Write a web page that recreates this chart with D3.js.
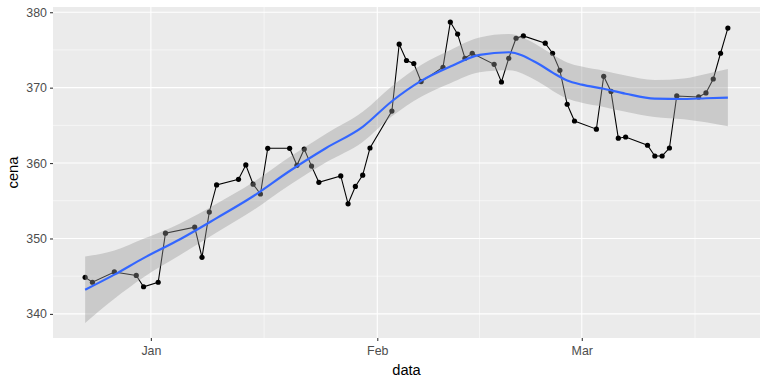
<!DOCTYPE html>
<html>
<head>
<meta charset="utf-8">
<script src="https://cdn.jsdelivr.net/npm/d3@7"></script>
<style>
  html, body { margin: 0; padding: 0; background: #ffffff; }
  svg { display: block; font-family: "Liberation Sans", Arial, sans-serif; }
</style>
</head>
<body>
<svg id="chart" width="768" height="384"></svg>
<script>
// ---- data ----
const dates = [
  "2013-12-23","2013-12-24","2013-12-27","2013-12-30","2013-12-31",
  "2014-01-02","2014-01-03","2014-01-07","2014-01-08","2014-01-09","2014-01-10",
  "2014-01-13","2014-01-14","2014-01-15","2014-01-16","2014-01-17",
  "2014-01-20","2014-01-21","2014-01-22","2014-01-23","2014-01-24",
  "2014-01-27","2014-01-28","2014-01-29","2014-01-30","2014-01-31",
  "2014-02-03","2014-02-04","2014-02-05","2014-02-06","2014-02-07",
  "2014-02-10","2014-02-11","2014-02-12","2014-02-13","2014-02-14",
  "2014-02-17","2014-02-18","2014-02-19","2014-02-20","2014-02-21",
  "2014-02-24","2014-02-25","2014-02-26","2014-02-27","2014-02-28",
  "2014-03-03","2014-03-04","2014-03-05","2014-03-06","2014-03-07",
  "2014-03-10","2014-03-11","2014-03-12","2014-03-13","2014-03-14",
  "2014-03-17","2014-03-18","2014-03-19","2014-03-20","2014-03-21"
];
const cena = [
  344.85, 344.2, 345.56, 345.1, 343.6,
  344.2, 350.7, 351.5, 347.5, 353.5, 357.1,
  357.85, 359.75, 357.2, 355.9, 361.96,
  361.96, 359.7, 361.85, 359.6, 357.45,
  358.3, 354.6, 356.9, 358.4, 362.0,
  366.9, 375.76, 373.6, 373.2, 370.8,
  372.7, 378.7, 377.1, 373.9, 374.56,
  373.1, 370.75, 373.9, 376.55, 376.86,
  375.9, 374.56, 372.3, 367.8, 365.58,
  364.5, 371.5, 369.5, 363.3, 363.46,
  362.36, 360.94, 360.94, 362.0, 368.9,
  368.77, 369.3, 371.15, 374.56, 377.9
];

// smoothed trend (loess) and its confidence band
const smoothDates = [
  "2013-12-23","2013-12-27","2013-12-31","2014-01-05","2014-01-10","2014-01-15",
  "2014-01-20","2014-01-25","2014-01-30","2014-02-03","2014-02-07","2014-02-11",
  "2014-02-15","2014-02-19","2014-02-23","2014-02-25","2014-02-27","2014-03-01",
  "2014-03-04","2014-03-07","2014-03-11","2014-03-15","2014-03-18","2014-03-21"
];
const smoothFit = [
  343.2, 345.2, 347.4, 349.9, 352.7, 355.6,
  358.95, 362.0, 364.8, 368.2, 370.9, 372.8,
  374.35, 374.7, 373.2, 372.0, 370.95, 370.4,
  369.85, 369.2, 368.55, 368.5, 368.6, 368.67
];
const smoothLower = [
  338.8, 342.0, 344.85, 347.8, 350.8, 353.75,
  357.1, 360.1, 362.8, 366.2, 368.8, 370.6,
  372.05, 372.3, 370.8, 369.6, 368.55, 368.0,
  367.45, 366.8, 366.1, 365.8, 365.4, 364.87
];
const smoothUpper = [
  347.6, 348.4, 349.95, 352.0, 354.6, 357.45,
  360.8, 363.9, 366.8, 370.2, 373.0, 375.0,
  376.65, 377.1, 375.6, 374.4, 373.35, 372.8,
  372.25, 371.6, 371.0, 371.2, 371.8, 372.47
];

const xTickDates = ["2014-01-01", "2014-02-01", "2014-03-01"];
const xTickLabels = ["Jan", "Feb", "Mar"];
const yTicks = [340, 350, 360, 370, 380];

// ---- layout ----
const svg = d3.select("#chart");
const panel = { left: 53, right: 760, top: 7, bottom: 338 };
const FONT = "'Liberation Sans', Arial, sans-serif";

const parse = d3.utcParse("%Y-%m-%d");
const pts = dates.map((d, i) => ({ date: parse(d), v: cena[i] }));
const smooth = smoothDates.map((d, i) => ({
  date: parse(d), fit: smoothFit[i], lo: smoothLower[i], hi: smoothUpper[i]
}));

// domains with ggplot's 5% expansion
const xExt = d3.extent(pts, d => d.date);
const xSpan = xExt[1] - xExt[0];
const x = d3.scaleUtc()
  .domain([new Date(+xExt[0] - 0.05 * xSpan), new Date(+xExt[1] + 0.05 * xSpan)])
  .range([panel.left, panel.right]);

const yMin = Math.min(d3.min(cena), d3.min(smoothLower));
const yMax = Math.max(d3.max(cena), d3.max(smoothUpper));
const ySpan = yMax - yMin;
const y = d3.scaleLinear()
  .domain([yMin - 0.05 * ySpan, yMax + 0.05 * ySpan])
  .range([panel.bottom, panel.top]);

// panel background
svg.append("rect")
  .attr("x", panel.left).attr("y", panel.top)
  .attr("width", panel.right - panel.left)
  .attr("height", panel.bottom - panel.top)
  .attr("fill", "#EBEBEB");

const grid = svg.append("g");
// minor y gridlines
const yMinor = [];
for (let i = 0; i < yTicks.length - 1; i++) yMinor.push((yTicks[i] + yTicks[i + 1]) / 2);
yMinor.push(yTicks[0] - 5); yMinor.push(yTicks[yTicks.length - 1] + 5);
grid.selectAll(".ymin").data(yMinor.filter(v => v > y.domain()[0] && v < y.domain()[1]))
  .join("line")
  .attr("x1", panel.left).attr("x2", panel.right)
  .attr("y1", d => y(d)).attr("y2", d => y(d))
  .attr("stroke", "#ffffff").attr("stroke-width", 0.53);

// minor x gridlines (midpoints between month breaks)
const majorDates = xTickDates.map(parse);
const extMajors = [d3.utcMonth.offset(majorDates[0], -1), ...majorDates,
  d3.utcMonth.offset(majorDates[majorDates.length - 1], 1)];
const xMinor = [];
for (let i = 0; i < extMajors.length - 1; i++)
  xMinor.push(new Date((+extMajors[i] + +extMajors[i + 1]) / 2));
grid.selectAll(".xmin").data(xMinor.filter(d => d > x.domain()[0] && d < x.domain()[1]))
  .join("line")
  .attr("x1", d => x(d)).attr("x2", d => x(d))
  .attr("y1", panel.top).attr("y2", panel.bottom)
  .attr("stroke", "#ffffff").attr("stroke-width", 0.53);

// major gridlines
grid.selectAll(".ymaj").data(yTicks).join("line")
  .attr("x1", panel.left).attr("x2", panel.right)
  .attr("y1", d => y(d)).attr("y2", d => y(d))
  .attr("stroke", "#ffffff").attr("stroke-width", 1.07);
grid.selectAll(".xmaj").data(majorDates).join("line")
  .attr("x1", d => x(d)).attr("x2", d => x(d))
  .attr("y1", panel.top).attr("y2", panel.bottom)
  .attr("stroke", "#ffffff").attr("stroke-width", 1.07);

// data line + points
svg.append("path")
  .datum(pts)
  .attr("fill", "none")
  .attr("stroke", "#000000")
  .attr("stroke-width", 1.07)
  .attr("d", d3.line().x(d => x(d.date)).y(d => y(d.v)));

svg.append("g").selectAll("circle").data(pts).join("circle")
  .attr("cx", d => x(d.date)).attr("cy", d => y(d.v))
  .attr("r", 2.6).attr("fill", "#000000");

// confidence ribbon
svg.append("path")
  .datum(smooth)
  .attr("fill", "#999999").attr("fill-opacity", 0.4)
  .attr("d", d3.area().curve(d3.curveMonotoneX)
    .x(d => x(d.date)).y0(d => y(d.lo)).y1(d => y(d.hi)));

// smooth line
svg.append("path")
  .datum(smooth)
  .attr("fill", "none")
  .attr("stroke", "#3366FF")
  .attr("stroke-width", 2.13)
  .attr("d", d3.line().curve(d3.curveMonotoneX).x(d => x(d.date)).y(d => y(d.fit)));

// axes
const xAxis = d3.axisBottom(x)
  .tickValues(majorDates)
  .tickFormat((d, i) => xTickLabels[i])
  .tickSize(3).tickPadding(5.5);
const gx = svg.append("g").attr("transform", `translate(0,${panel.bottom})`).call(xAxis);
gx.select(".domain").remove();
gx.selectAll(".tick line").attr("stroke", "#333333").attr("stroke-width", 1.07);
gx.selectAll(".tick text").attr("fill", "#4D4D4D").style("font-size", "12.4px")
  .style("font-family", FONT);

const yAxis = d3.axisLeft(y).tickValues(yTicks).tickSize(3).tickPadding(3);
const gy = svg.append("g").attr("transform", `translate(${panel.left},0)`).call(yAxis);
gy.select(".domain").remove();
gy.selectAll(".tick line").attr("stroke", "#333333").attr("stroke-width", 1.07);
gy.selectAll(".tick text").attr("fill", "#4D4D4D").style("font-size", "12.4px")
  .style("font-family", FONT);

// axis titles
svg.append("text")
  .attr("x", (panel.left + panel.right) / 2).attr("y", 375)
  .attr("text-anchor", "middle")
  .style("font-size", "14.67px").style("font-family", FONT).attr("fill", "#000000")
  .text("data");
svg.append("text")
  .attr("transform", `translate(18,${(panel.top + panel.bottom) / 2}) rotate(-90)`)
  .attr("text-anchor", "middle")
  .style("font-size", "14.67px").style("font-family", FONT).attr("fill", "#000000")
  .text("cena");
</script>
</body>
</html>
